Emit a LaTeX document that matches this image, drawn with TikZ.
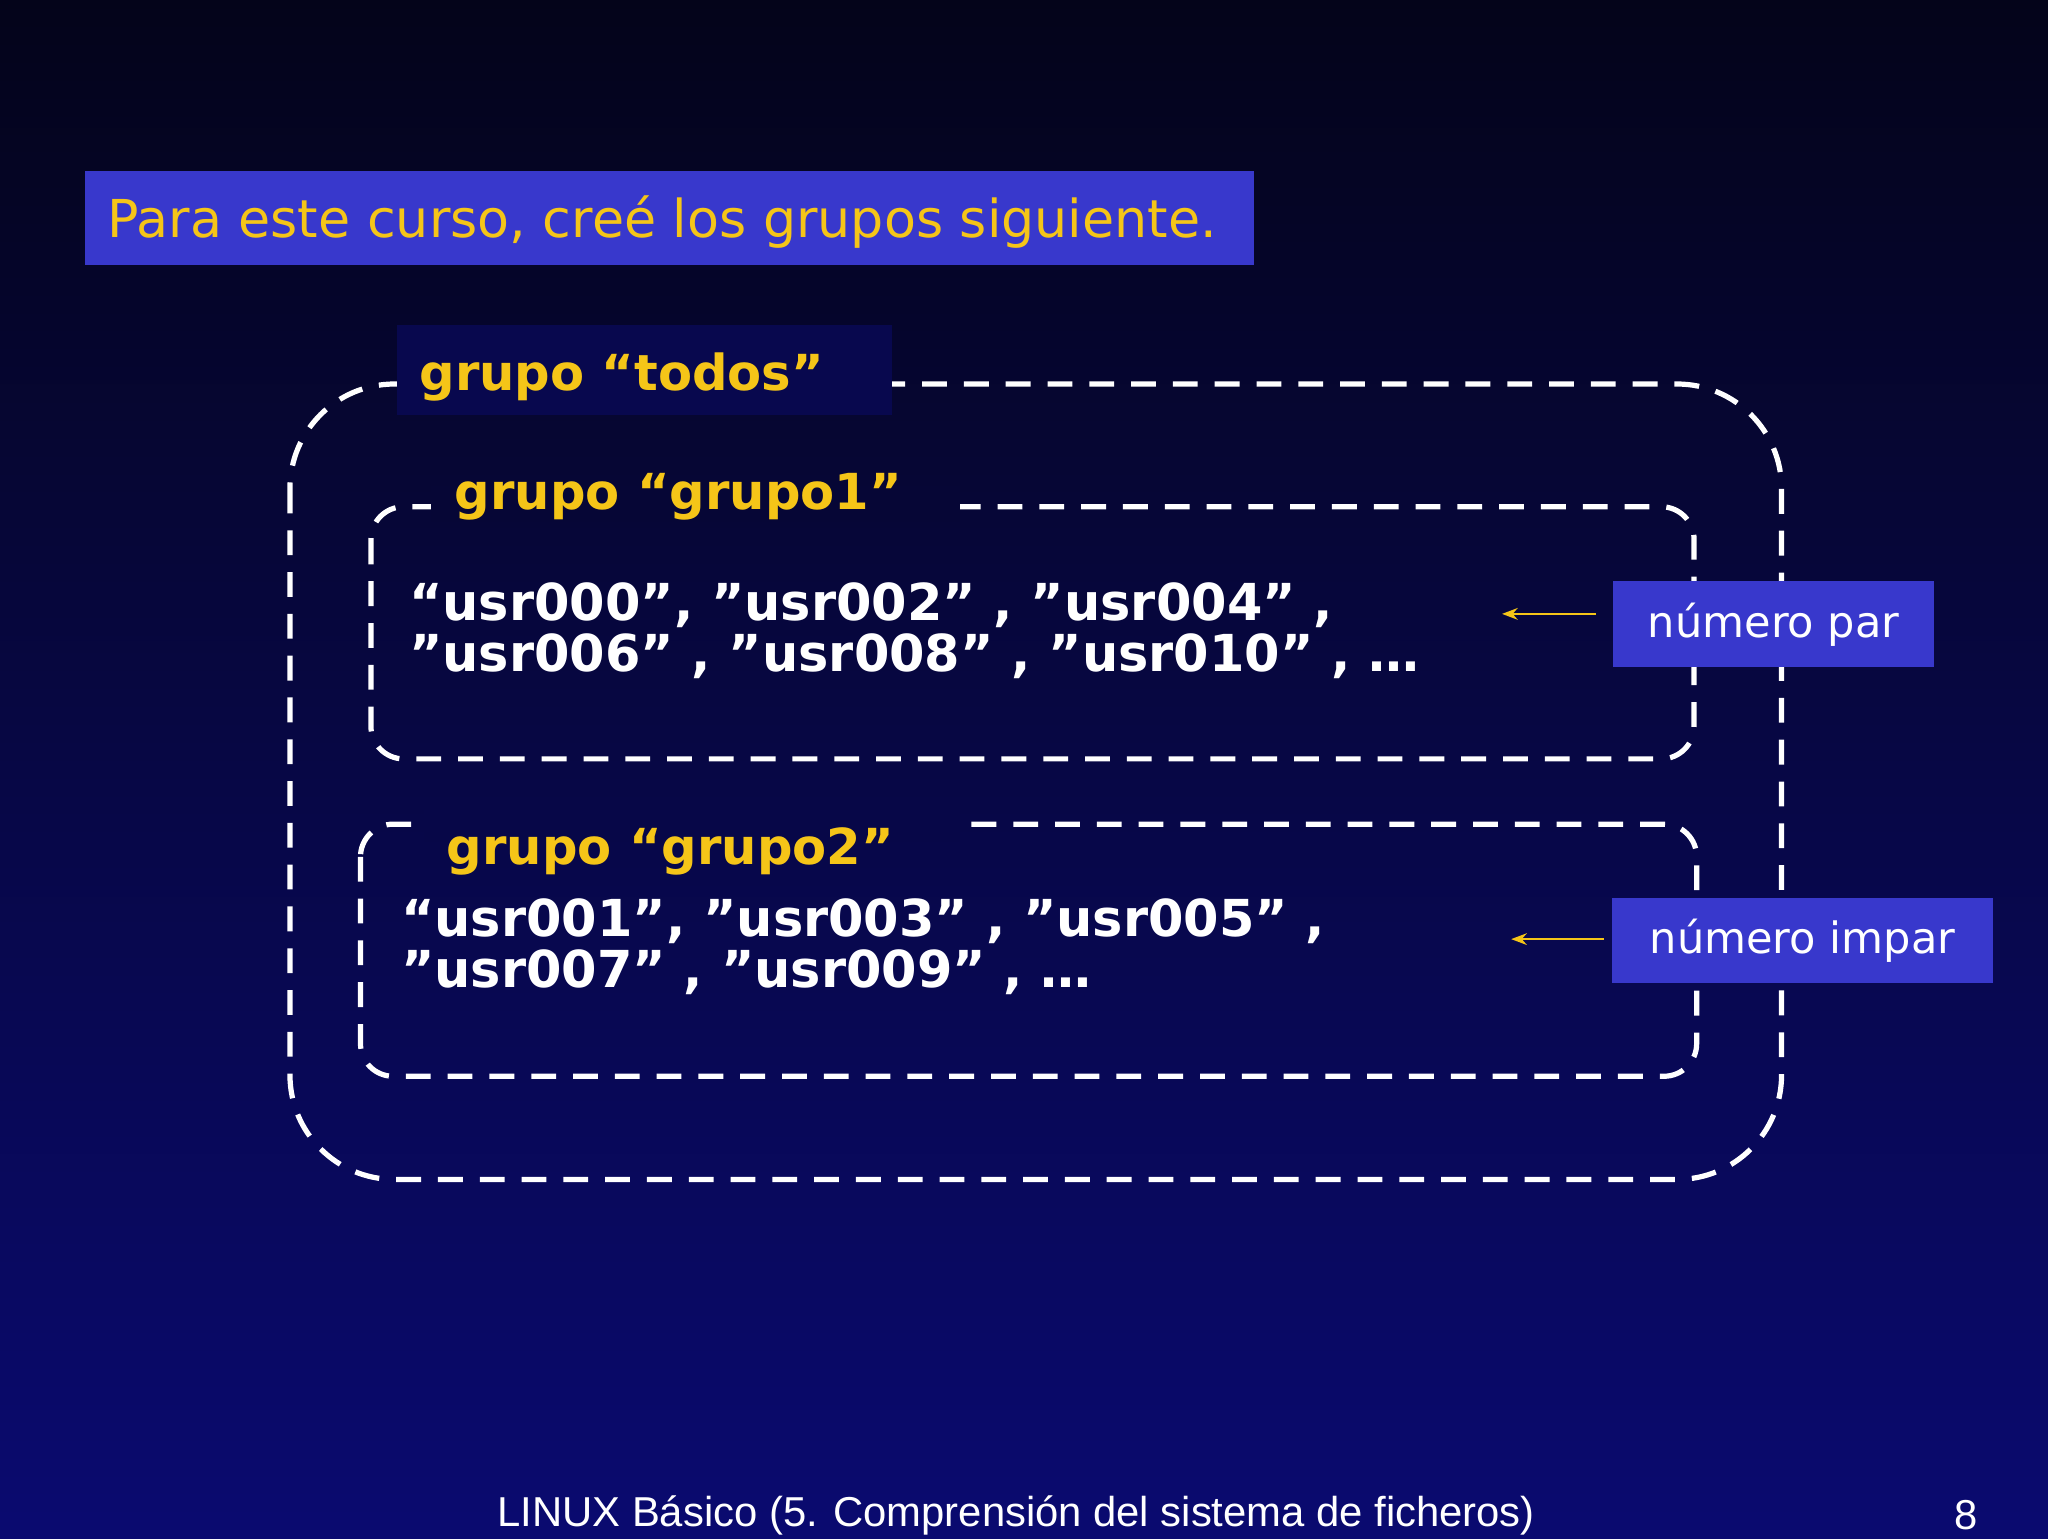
\documentclass[tikz,border=0pt]{standalone}
\usepackage{fontspec}
\setmainfont{DejaVu Sans}
\newfontfamily\footfont{Liberation Sans}
\definecolor{bgtop}{HTML}{04041A}
\definecolor{bgbot}{HTML}{0A0A70}
\definecolor{boxblue}{HTML}{3838CC}
\definecolor{gold}{HTML}{F5C518}
\definecolor{labbg}{HTML}{08084E}
\tikzset{
  dbox/.style={draw=white,line width=4pt,dash pattern=on 19pt off 13pt},
  ttl/.style={text=gold,font=\fontsize{40}{44}\selectfont,anchor=west,inner sep=0},
  lab/.style={text=gold,font=\bfseries\fontsize{38}{42}\selectfont,anchor=west,inner sep=0},
  usr/.style={text=white,font=\bfseries\fontsize{39}{39}\selectfont,anchor=west,inner sep=0,align=left},
  tag/.style={fill=boxblue,text=white,font=\fontsize{33}{36}\selectfont,inner sep=0},
  arr/.style={draw=gold,line width=1.5pt,-{Stealth[length=12pt,width=9pt]}}
}
\usetikzlibrary{arrows.meta}
\begin{document}
\begin{tikzpicture}[x=1pt,y=-1pt]
\useasboundingbox (0,0) rectangle (1568,1178);
\shade[top color=bgtop,bottom color=bgbot] (0,0) rectangle (1568,1178);
\fill[boxblue] (65,131) rectangle (960,203);
\node[ttl] (title) at (82,170) {Para este curso, creé los grupos siguiente.};
% outer
\draw[dbox,rounded corners=80pt] (222,294) rectangle (1364,903);
\fill[labbg] (304,249) rectangle (683,318);
\node[lab] (ltodos) at (321,289) {grupo “todos”};
% group1
\draw[dbox,rounded corners=25pt] (284,388) rectangle (1297,581);
\fill[bgtop!68!bgbot] (330,372) rectangle (735,400);
\node[lab] (lg1) at (348,380) {grupo “grupo1”};
\node[usr] (u1) at (313,483) {“usr000”, ”usr002” , ”usr004” ,\\”usr006” , ”usr008” , ”usr010” , …};
\node[tag,minimum width=246pt,minimum height=66pt] (par) at (1358,478) {número par};
\coordinate (p1) at (1150,470);
\draw[arr] (1222,470) -- (p1);
% group2
\draw[dbox,rounded corners=25pt] (276,631) rectangle (1299,824);
\fill[bgtop!46!bgbot] (325,620) rectangle (735,645);
\node[lab] (lg2) at (342,652) {grupo “grupo2”};
\node[usr] (u2) at (307,725) {“usr001”, ”usr003” , ”usr005” ,\\”usr007” , ”usr009” , …};
\node[tag,minimum width=291pt,minimum height=65pt] (impar) at (1380,720) {número impar};
\coordinate (p2) at (1157,719);
\draw[arr] (1228,719) -- (p2);
\node[text=white,font=\footfont\fontsize{32}{34}\selectfont,inner sep=0] (foot) at (778,1160) {LINUX Básico (5. Comprensión del sistema de ficheros)};
\node[text=white,font=\footfont\fontsize{32}{34}\selectfont,inner sep=0] (pg) at (1505,1160) {8};
\end{tikzpicture}
\end{document}
